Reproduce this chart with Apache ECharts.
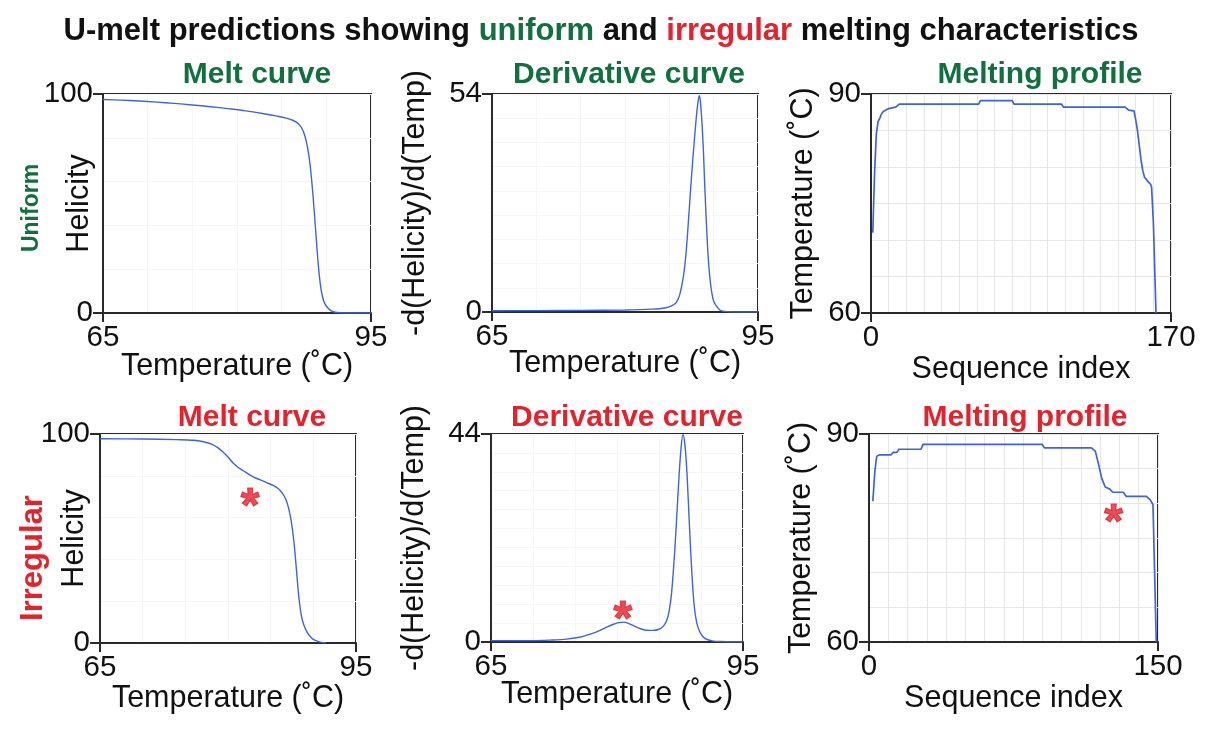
<!DOCTYPE html>
<html>
<head>
<meta charset="utf-8">
<script src="https://cdn.jsdelivr.net/npm/echarts@6/dist/echarts.min.js"></script>
<style>html,body{margin:0;padding:0;background:#fff}#c{width:1213px;height:732px}</style>
</head>
<body>
<div id="c"></div>
<script>
// ---------- DATA ----------
// Uniform melt curve (temperature °C, helicity %)
const uMeltT   = [65, 67, 69, 71, 73, 75, 77, 79, 81, 83, 84.5, 85.5, 86.3, 86.9, 87.3, 87.6, 87.9, 88.2, 88.5, 88.8, 89.1, 89.4, 89.7, 90.1, 90.6, 91.2, 92, 95];
const uMeltH   = [97.5, 97.2, 96.8, 96.3, 95.7, 95.0, 94.2, 93.3, 92.3, 91.0, 89.9, 89.0, 87.9, 86.3, 84.0, 80.8, 75.5, 67, 54, 38, 22, 11, 5.5, 2.6, 0.9, 0.2, 0, 0];
// Uniform derivative curve
const uDerT    = [65, 70, 75, 80, 83, 84.5, 85.3, 85.8, 86.2, 86.6, 86.9, 87.2, 87.5, 87.8, 88.1, 88.3, 88.4, 88.55, 88.8, 89.0, 89.2, 89.4, 89.65, 89.95, 90.3, 90.7, 91.2, 92, 95];
const uDerV    = [0.3, 0.35, 0.4, 0.5, 0.7, 1.0, 1.6, 2.4, 4.5, 9, 15, 24, 33.5, 42, 49.5, 53, 53.6, 51, 42, 31, 21, 13, 7, 3, 1.5, 0.5, 0.15, 0.03, 0];
// Uniform melting profile (sequence index, temperature °C)
const uProfIdx = [1, 2, 3, 4, 5, 6, 7, 8, 10, 12, 14, 16, 61, 62, 80, 81, 108, 109, 144, 146, 149, 150, 151, 152, 153, 154, 155, 157, 158.5, 159, 160, 161.5];
const uProfT   = [71, 79, 84.5, 86.2, 86.7, 87.3, 87.6, 87.8, 88.0, 88.1, 88.2, 88.6, 88.6, 89.1, 89.1, 88.6, 88.6, 88.2, 88.2, 87.8, 87.7, 86.5, 85, 83, 81, 79.5, 78.6, 78, 77.6, 77.2, 72.5, 60];
// Irregular melt curve
const iMeltT   = [65, 70, 74, 76, 77, 78, 78.8, 79.5, 80.1, 80.6, 81.2, 81.8, 82.4, 83.0, 83.8, 84.6, 85.3, 85.9, 86.4, 86.8, 87.1, 87.4, 87.7, 88.0, 88.3, 88.6, 88.9, 89.3, 89.8, 90.3, 90.8, 91.5];
const iMeltH   = [97.7, 97.6, 97.3, 97.0, 96.4, 95.3, 93.5, 91.0, 88.5, 86.1, 84.0, 82.4, 80.8, 79.4, 78.0, 76.6, 75.4, 73.8, 71.5, 68.5, 64.5, 58.5, 49.4, 36, 22, 13, 8.5, 5, 2.4, 1.1, 0.4, 0];
// Irregular derivative curve
const iDerT    = [65, 70, 72, 74, 75.5, 76.5, 77.5, 78.5, 79.5, 80.2, 80.8, 81.4, 82.0, 82.8, 83.5, 84.3, 85.0, 85.5, 85.9, 86.2, 86.5, 86.9, 87.3, 87.6, 87.85, 88.1, 88.35, 88.6, 88.9, 89.2, 89.5, 89.9, 90.5, 91.3, 92.5, 95];
const iDerV    = [0.3, 0.3, 0.4, 0.6, 1.0, 1.5, 2.1, 2.9, 3.7, 4.1, 4.2, 3.9, 3.4, 2.8, 2.5, 2.45, 2.7, 3.3, 4.5, 6.5, 10.4, 20, 32.5, 40.5, 43.9, 41.5, 35, 25.5, 15, 7.5, 4, 2.0, 0.7, 0.25, 0.1, 0];
// Irregular melting profile
const iProfIdx = [2, 3, 4, 5.5, 11.5, 12.5, 14.5, 15.5, 27, 28, 90, 91, 115.5, 117.5, 119, 120.8, 122.6, 125, 126.5, 132, 133.5, 144, 146, 147.4, 149.1];
const iProfT   = [80.3, 84.5, 86.8, 87, 87, 87.35, 87.35, 87.8, 87.8, 88.5, 88.5, 88.0, 88.0, 87.5, 85.8, 83.6, 82.35, 82.05, 81.6, 81.6, 81.0, 81.0, 80.5, 79.8, 60];
// Asterisk annotations [x, y] in data units of panels 4, 5, 6
const starMelt    = [82.6, 70.1];
const starDeriv   = [80.7, 6.9];
const starProfile = [126.9, 78.6];
// Axis ranges (tick labels shown at the ends only)
const tempRange   = [65, 95];
const helRange    = [0, 100];
const uDerRange   = [0, 54];
const iDerRange   = [0, 44];
const uIdxRange   = [0, 170];
const iIdxRange   = [0, 150];
const profTRange  = [60, 90];

// ---------- STYLE ----------
const FONT = '"Liberation Sans", Arial, Helvetica, sans-serif';
const GREEN = '#11703f';
const RED = '#e5222b';
const BLUE = '#3d63e3';
const INK = '#2a2a2a';

const zip = (a, b) => a.map((v, i) => [v, b[i]]);

const panels = [
  {grid:{left:103, top:94, width:268, height:219}, x:tempRange, xi:5, y:helRange, yi:20, xName:'Temperature (˚C)', yName:'Helicity', yGap:8, xGap:38, title:'Melt curve', tc:GREEN, tx:252, ty:55, data:zip(uMeltT,uMeltH), smooth:true},
  {grid:{left:492, top:94, width:266, height:218}, x:tempRange, xi:5, y:uDerRange, yi:6, xName:'Temperature (˚C)', yName:'-d(Helicity)/d(Temp)', yGap:61, xGap:36, title:'Derivative curve', tc:GREEN, tx:624, ty:55, data:zip(uDerT,uDerV), smooth:true},
  {grid:{left:871, top:94, width:300, height:219}, x:uIdxRange, xi:10, y:profTRange, yi:5, xName:'Sequence index', yName:'Temperature (˚C)', yGap:52, xGap:41, title:'Melting profile', tc:GREEN, tx:1035, ty:55, data:zip(uProfIdx,uProfT), smooth:false, dense:true},
  {grid:{left:100, top:434, width:256, height:209}, x:tempRange, xi:5, y:helRange, yi:20, xName:'Temperature (˚C)', yName:'Helicity', yGap:10, xGap:40, title:'Melt curve', tc:RED, tx:247, ty:398, data:zip(iMeltT,iMeltH), smooth:true, star:starMelt},
  {grid:{left:491, top:434, width:252, height:208}, x:tempRange, xi:5, y:iDerRange, yi:4, xName:'Temperature (˚C)', yName:'-d(Helicity)/d(Temp)', yGap:61, xGap:37, title:'Derivative curve', tc:RED, tx:622, ty:398, data:zip(iDerT,iDerV), smooth:true, star:starDeriv},
  {grid:{left:869, top:434, width:289, height:208}, x:iIdxRange, xi:10, y:profTRange, yi:5, xName:'Sequence index', yName:'Temperature (˚C)', yGap:52, xGap:41, title:'Melting profile', tc:RED, tx:1020, ty:398, data:zip(iProfIdx,iProfT), smooth:false, dense:true, star:starProfile}
];

const grids = [], xAxes = [], yAxes = [], series = [], titles = [];
const xGridAxes = [], yGridAxes = [];
titles.push({
  text: '{a|U-melt predictions showing }{g|uniform}{a| and }{r|irregular}{a| melting characteristics}',
  left: 596, top: 11, textAlign: 'center',
  textStyle: {
    fontFamily: FONT,
    rich: {
      a: {fontSize: 31, fontWeight: 'bold', color: '#111', fontFamily: FONT},
      g: {fontSize: 31, fontWeight: 'bold', color: GREEN, fontFamily: FONT},
      r: {fontSize: 31, fontWeight: 'bold', color: RED, fontFamily: FONT}
    }
  }
});

panels.forEach((p, i) => {
  grids.push(Object.assign({show:true, borderColor:INK, borderWidth:2, backgroundColor:'#fff'}, p.grid));
  const splitCol = p.dense ? '#e6e6e6' : '#f6f6f6';
  xAxes.push({
    gridIndex:i, type:'value', min:p.x[0], max:p.x[1], interval:p.xi,
    axisLine:{show:true, onZero:false, lineStyle:{color:INK, width:2}},
    axisTick:{show:true, customValues:[p.x[0], p.x[1]], length:9, lineStyle:{color:INK, width:2}},
    axisLabel:{customValues:[p.x[0], p.x[1]], fontSize:29.5, color:'#111', margin:10, fontFamily:FONT},
    splitLine:{show:false},
    name:p.xName, nameLocation:'middle', nameGap:p.xGap, nameMoveOverlap:false,
    nameTextStyle:{fontSize:30.5, color:'#111', fontFamily:FONT}
  });
  yAxes.push({
    gridIndex:i, type:'value', min:p.y[0], max:p.y[1], interval:p.yi,
    axisLine:{show:true, onZero:false, lineStyle:{color:INK, width:2}},
    axisTick:{show:true, customValues:[p.y[0], p.y[1]], length:10, lineStyle:{color:INK, width:2}},
    axisLabel:{customValues:[p.y[0], p.y[1]], fontSize:29.5, color:'#111', margin:10, fontFamily:FONT},
    splitLine:{show:false},
    name:p.yName, nameLocation:'middle', nameGap:p.yGap, nameMoveOverlap:false,
    nameTextStyle:{fontSize:30.5, color:'#111', fontFamily:FONT}
  });
  // secondary axes only for the faint background grid lines
  xGridAxes.push({
    gridIndex:i, type:'value', position:'top', min:p.x[0], max:p.x[1], interval:p.xi,
    axisLine:{show:false}, axisTick:{show:false}, axisLabel:{show:false},
    splitLine:{show:true, lineStyle:{color:splitCol, width:1}}, z:0
  });
  yGridAxes.push({
    gridIndex:i, type:'value', position:'right', min:p.y[0], max:p.y[1], interval:p.yi,
    axisLine:{show:false}, axisTick:{show:false}, axisLabel:{show:false},
    splitLine:{show:true, lineStyle:{color:splitCol, width:1}}, z:0
  });
  titles.push({
    text:p.title, left:p.tx, top:p.ty, textAlign:'center',
    textStyle:{fontSize:30, fontWeight:'bold', color:p.tc, fontFamily:FONT}
  });
  series.push({
    type:'line', xAxisIndex:i, yAxisIndex:i, data:p.data, showSymbol:false,
    smooth:p.smooth ? 0.35 : false,
    lineStyle:{color:BLUE, width:p.dense ? 1.7 : 1.4}, silent:true, z:3
  });
  if (p.star) {
    series.push({
      type:'scatter', xAxisIndex:i, yAxisIndex:i, data:[p.star],
      symbol:'circle', symbolSize:1, itemStyle:{color:'rgba(0,0,0,0)'},
      label:{show:true, position:'inside', formatter:'*', fontSize:48, fontWeight:'bold', color:RED,
             textBorderColor:RED, textBorderWidth:1.2, fontFamily:FONT, offset:[0, 11]},
      silent:true, z:5
    });
  }
});

const chart = echarts.init(document.getElementById('c'), null, {renderer:'canvas'});
chart.setOption({
  animation:false,
  backgroundColor:'#fff',
  title:titles,
  grid:grids, xAxis:xAxes.concat(xGridAxes), yAxis:yAxes.concat(yGridAxes), series:series,
  graphic:[
    {type:'text', x:32, y:208, rotation:Math.PI/2,
     style:{text:'Uniform', fontSize:23, fontWeight:'bold', fontFamily:FONT, fill:GREEN, align:'center', verticalAlign:'middle'}},
    {type:'text', x:33, y:558, rotation:Math.PI/2,
     style:{text:'Irregular', fontSize:31, fontWeight:'bold', fontFamily:FONT, fill:RED, align:'center', verticalAlign:'middle'}}
  ]
});
</script>
</body>
</html>
